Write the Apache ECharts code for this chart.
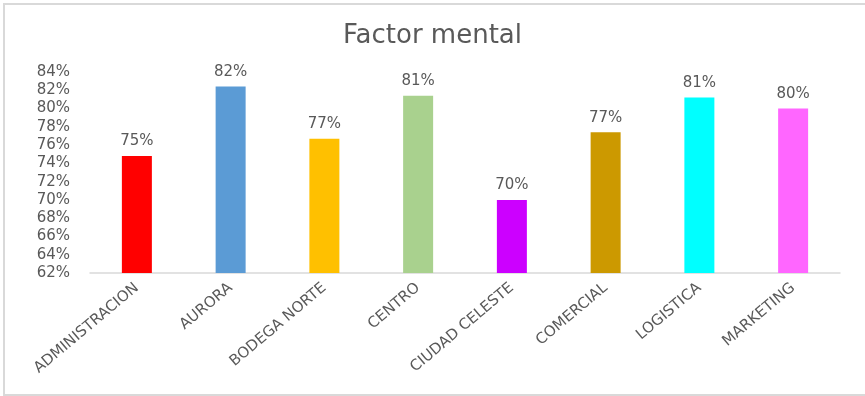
<!DOCTYPE html>
<html>
<head>
<meta charset="utf-8">
<script src="https://cdn.jsdelivr.net/npm/echarts@6/dist/echarts.min.js"></script>
<style>
  html, body { margin: 0; padding: 0; background: #fff; }
  #chart { width: 865px; height: 396px; }
</style>
</head>
<body>
<div id="chart"></div>
<script>
// Factor mental by area (percent)
const categories = ['ADMINISTRACION', 'AURORA', 'BODEGA NORTE', 'CENTRO', 'CIUDAD CELESTE', 'COMERCIAL', 'LOGISTICA', 'MARKETING'];
const values = [74.8, 82.4, 76.7, 81.4, 70.0, 77.4, 81.2, 80.0];
const barColors = ['#FF0000', '#5B9BD5', '#FFC000', '#A9D18E', '#CC00FF', '#CC9900', '#00FFFF', '#FF66FF'];
const yMin = 62, yMax = 84, yStep = 2;

const textColor = '#595959';
const fontFamily = '"DejaVu Sans", "Noto Sans", sans-serif';

const chart = echarts.init(document.getElementById('chart'), null, { renderer: 'canvas' });
chart.setOption({
  backgroundColor: '#ffffff',
  animation: false,
  title: {
    text: 'Factor mental',
    left: 'center',
    top: 18,
    textStyle: { color: textColor, fontSize: 26, fontWeight: 'normal', fontFamily: fontFamily }
  },
  // chart frame: top, left and bottom edges
  graphic: [{
    type: 'polyline',
    shape: { points: [[865, 4], [4, 4], [4, 395], [865, 395]] },
    style: { fill: 'none', stroke: '#d9d9d9', lineWidth: 2 },
    silent: true,
    z: -1
  }],
  grid: { left: 90, right: 25, top: 72, bottom: 123 },
  xAxis: {
    type: 'category',
    data: categories,
    axisLine: { lineStyle: { color: '#d9d9d9', width: 1.5 } },
    axisTick: { show: false },
    axisLabel: {
      rotate: 40,
      interval: 0,
      margin: 13,
      color: textColor,
      fontSize: 15,
      fontFamily: fontFamily
    }
  },
  yAxis: {
    type: 'value',
    min: yMin,
    max: yMax,
    interval: yStep,
    axisLine: { show: false },
    axisTick: { show: false },
    splitLine: { show: false },
    axisLabel: {
      margin: 20,
      color: textColor,
      fontSize: 15,
      fontFamily: fontFamily,
      formatter: v => v + '%'
    }
  },
  series: [{
    type: 'bar',
    data: values.map((v, i) => ({ value: v, itemStyle: { color: barColors[i] } })),
    barWidth: 30,
    label: {
      show: true,
      position: 'top',
      distance: 7,
      color: textColor,
      fontSize: 15,
      fontFamily: fontFamily,
      formatter: p => Math.round(p.value) + '%'
    }
  }]
});
</script>
</body>
</html>
